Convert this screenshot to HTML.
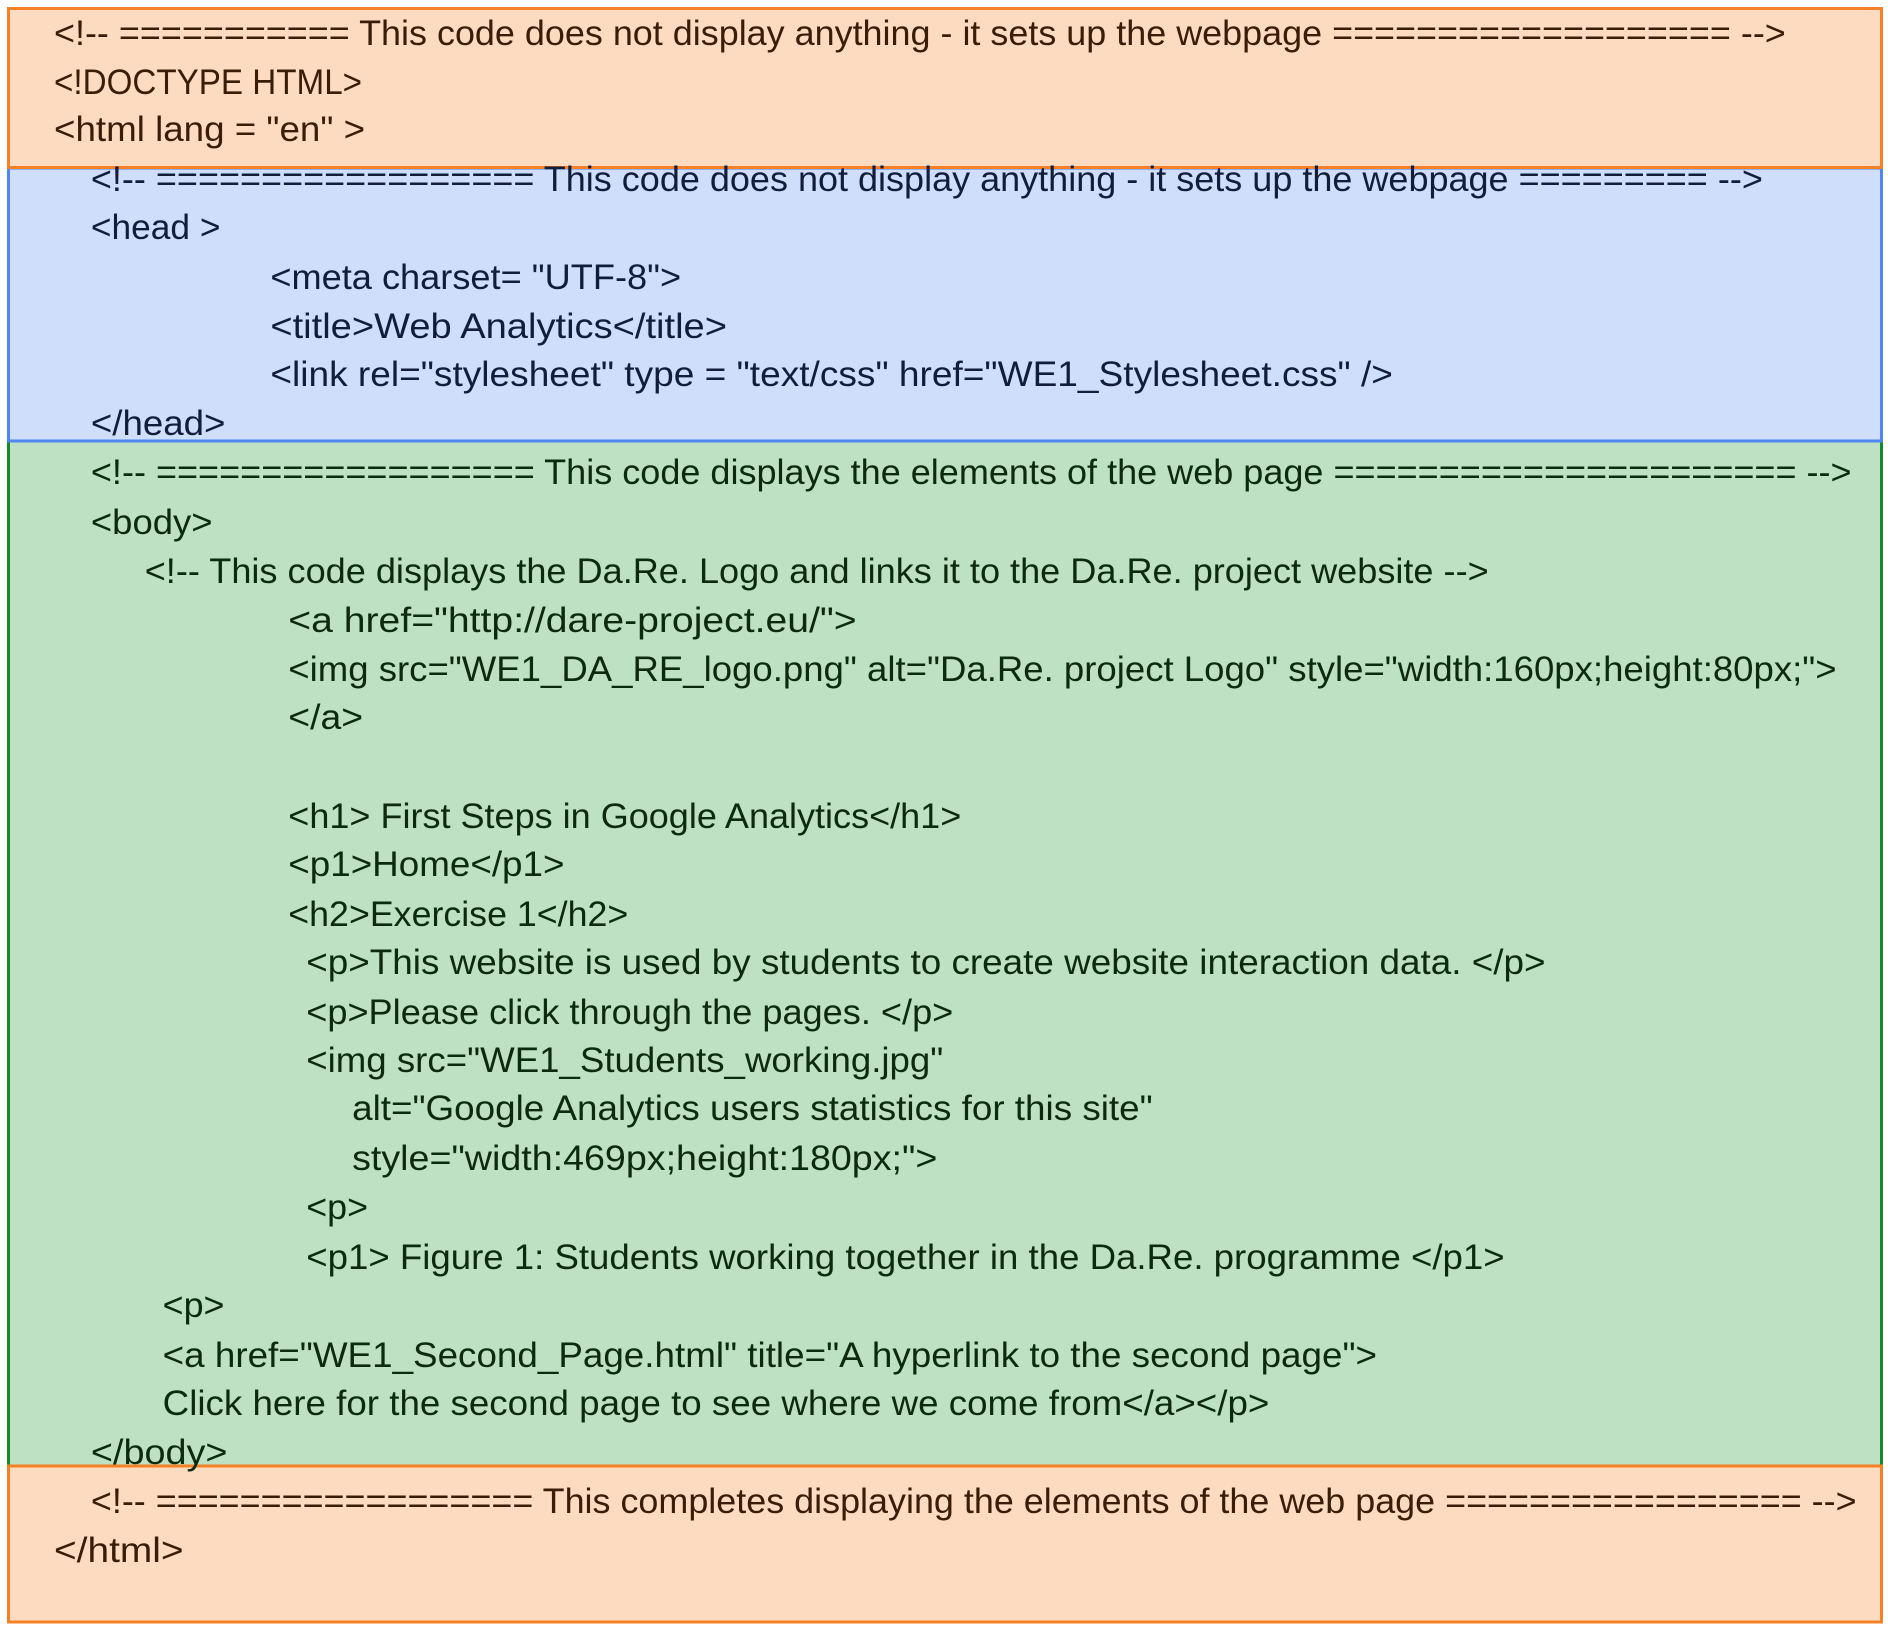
<!DOCTYPE html>
<html><head><meta charset="utf-8"><style>
html,body{margin:0;padding:0;background:#fff;}
svg{display:block;}
text{font-family:"Liberation Sans",sans-serif;font-size:35px;white-space:pre;}
.o{fill:#3a1d08}.b{fill:#121d3a}.g{fill:#0c2a0f}
</style></head><body>
<svg width="1888" height="1626" viewBox="0 0 1888 1626" xmlns="http://www.w3.org/2000/svg">
<rect x="8.5" y="441" width="1873" height="1025" fill="#bde1c2" stroke="#16892a" stroke-width="3"/>
<rect x="8.5" y="168" width="1873" height="273" fill="#cfdffb" stroke="#4f86f0" stroke-width="3"/>
<rect x="8.5" y="1466" width="1873" height="156" fill="#fddbc0" stroke="#f58025" stroke-width="3"/>
<rect x="8.5" y="8.5" width="1873" height="159" fill="#fddbc0" stroke="#f58025" stroke-width="3"/>

<g transform="translate(54,-2) scale(0.997,1) translate(-54,0)">
<text class="o" x="54" y="47" textLength="1737" lengthAdjust="spacingAndGlyphs">&lt;!-- =========== This code does not display anything - it sets up the webpage =================== --&gt;</text>
<text class="o" x="54" y="96" textLength="309" lengthAdjust="spacingAndGlyphs">&lt;!DOCTYPE HTML&gt;</text>
<text class="o" x="54" y="143" textLength="312" lengthAdjust="spacingAndGlyphs">&lt;html lang = "en" &gt;</text>

<text class="b" x="91" y="193" textLength="1677" lengthAdjust="spacingAndGlyphs">&lt;!-- ================== This code does not display anything - it sets up the webpage ========= --&gt;</text>
<text class="b" x="91" y="241" textLength="130" lengthAdjust="spacingAndGlyphs">&lt;head &gt;</text>
<text class="b" x="271" y="291" textLength="412" lengthAdjust="spacingAndGlyphs">&lt;meta charset= "UTF-8"&gt;</text>
<text class="b" x="271" y="340" textLength="458" lengthAdjust="spacingAndGlyphs">&lt;title&gt;Web Analytics&lt;/title&gt;</text>
<text class="b" x="271" y="388" textLength="1126" lengthAdjust="spacingAndGlyphs">&lt;link rel="stylesheet" type = "text/css" href="WE1_Stylesheet.css" /&gt;</text>
<text class="b" x="91" y="437" textLength="135" lengthAdjust="spacingAndGlyphs">&lt;/head&gt;</text>

<text class="g" x="91" y="486" textLength="1766" lengthAdjust="spacingAndGlyphs">&lt;!-- ================== This code displays the elements of the web page ====================== --&gt;</text>
<text class="g" x="91" y="536" textLength="122" lengthAdjust="spacingAndGlyphs">&lt;body&gt;</text>
<text class="g" x="145" y="585" textLength="1348" lengthAdjust="spacingAndGlyphs">&lt;!-- This code displays the Da.Re. Logo and links it to the Da.Re. project website --&gt;</text>
<text class="g" x="289" y="634" textLength="570" lengthAdjust="spacingAndGlyphs">&lt;a href="http://dare-project.eu/"&gt;</text>
<text class="g" x="289" y="683" textLength="1553" lengthAdjust="spacingAndGlyphs">&lt;img src="WE1_DA_RE_logo.png" alt="Da.Re. project Logo" style="width:160px;height:80px;"&gt;</text>
<text class="g" x="289" y="731" textLength="75" lengthAdjust="spacingAndGlyphs">&lt;/a&gt;</text>
<text class="g" x="289" y="830" textLength="675" lengthAdjust="spacingAndGlyphs">&lt;h1&gt; First Steps in Google Analytics&lt;/h1&gt;</text>
<text class="g" x="289" y="878" textLength="277" lengthAdjust="spacingAndGlyphs">&lt;p1&gt;Home&lt;/p1&gt;</text>
<text class="g" x="289" y="928" textLength="341" lengthAdjust="spacingAndGlyphs">&lt;h2&gt;Exercise 1&lt;/h2&gt;</text>
<text class="g" x="307" y="976" textLength="1243" lengthAdjust="spacingAndGlyphs">&lt;p&gt;This website is used by students to create website interaction data. &lt;/p&gt;</text>
<text class="g" x="307" y="1026" textLength="649" lengthAdjust="spacingAndGlyphs">&lt;p&gt;Please click through the pages. &lt;/p&gt;</text>
<text class="g" x="307" y="1074" textLength="639" lengthAdjust="spacingAndGlyphs">&lt;img src="WE1_Students_working.jpg"</text>
<text class="g" x="353" y="1122" textLength="803" lengthAdjust="spacingAndGlyphs">alt="Google Analytics users statistics for this site"</text>
<text class="g" x="353" y="1172" textLength="587" lengthAdjust="spacingAndGlyphs">style="width:469px;height:180px;"&gt;</text>
<text class="g" x="307" y="1221" textLength="62" lengthAdjust="spacingAndGlyphs">&lt;p&gt;</text>
<text class="g" x="307" y="1271" textLength="1202" lengthAdjust="spacingAndGlyphs">&lt;p1&gt; Figure 1: Students working together in the Da.Re. programme &lt;/p1&gt;</text>
<text class="g" x="163" y="1319" textLength="62" lengthAdjust="spacingAndGlyphs">&lt;p&gt;</text>
<text class="g" x="163" y="1369" textLength="1218" lengthAdjust="spacingAndGlyphs">&lt;a href="WE1_Second_Page.html" title="A hyperlink to the second page"&gt;</text>
<text class="g" x="163" y="1417" textLength="1110" lengthAdjust="spacingAndGlyphs">Click here for the second page to see where we come from&lt;/a&gt;&lt;/p&gt;</text>
<text class="g" x="91" y="1466" textLength="137" lengthAdjust="spacingAndGlyphs">&lt;/body&gt;</text>

<text class="o" x="91" y="1515" textLength="1771" lengthAdjust="spacingAndGlyphs">&lt;!-- ================== This completes displaying the elements of the web page ================= --&gt;</text>
<text class="o" x="54" y="1564" textLength="130" lengthAdjust="spacingAndGlyphs">&lt;/html&gt;</text>
</g>
</svg>
</body></html>
